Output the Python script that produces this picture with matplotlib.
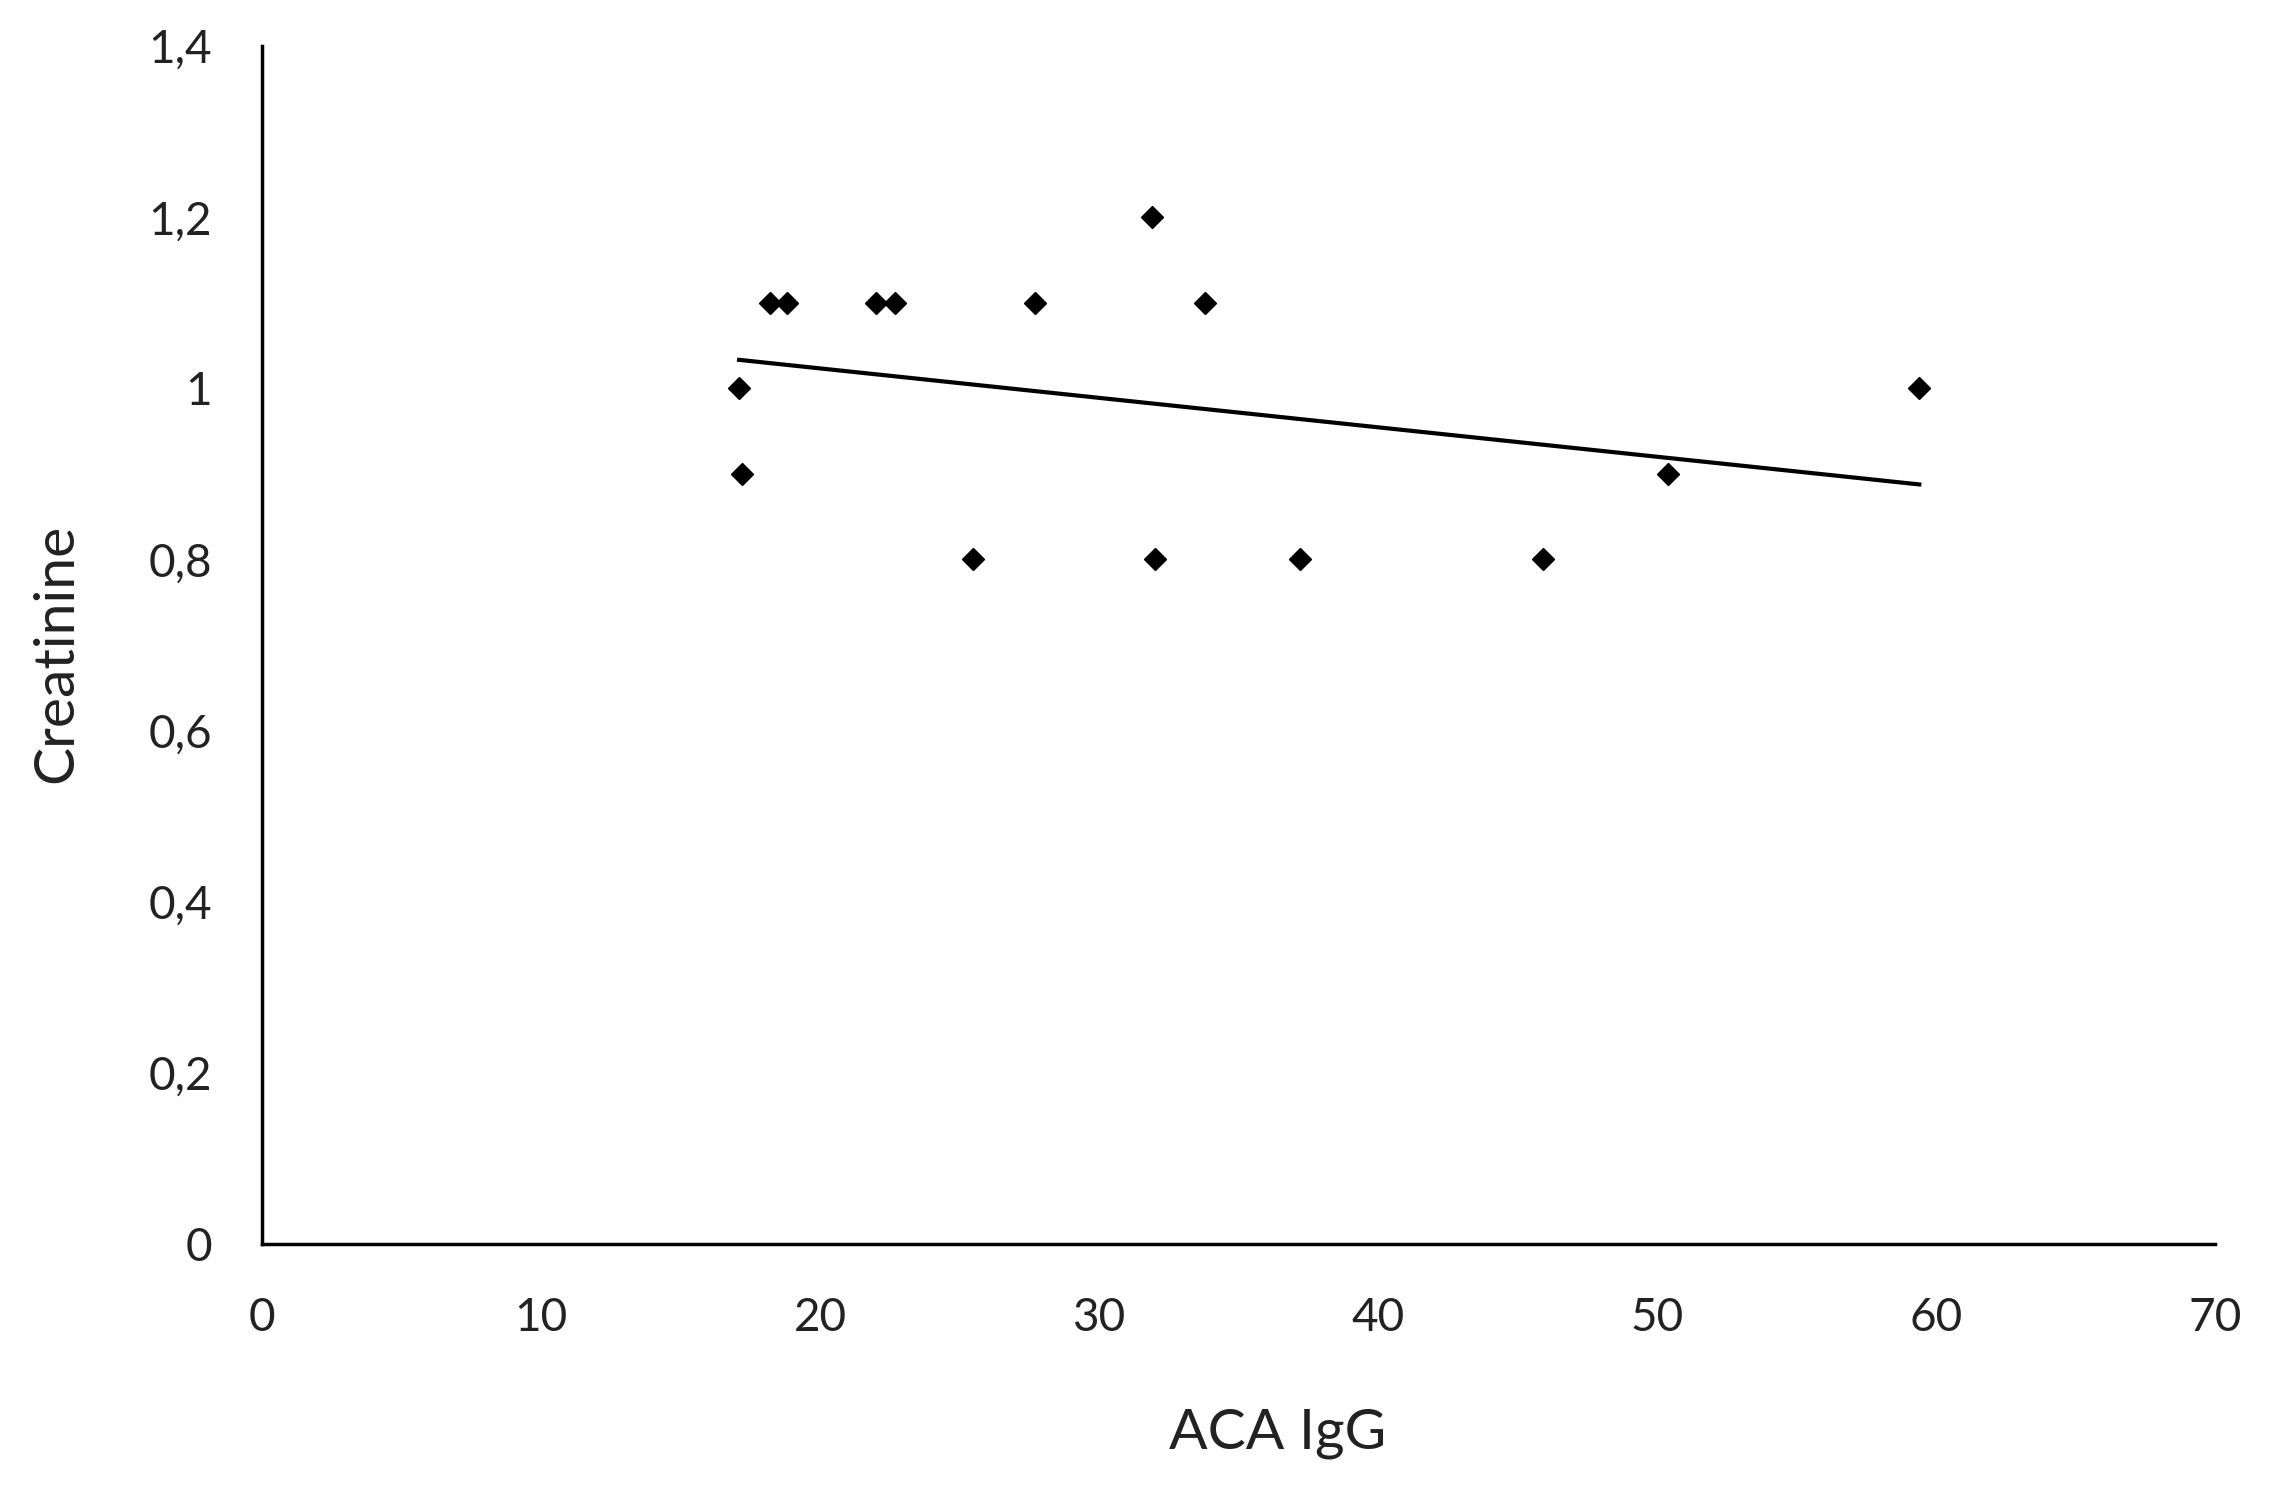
import numpy as np
from matplotlib import pyplot as plt

# values
aca_igg = [17.1, 17.2, 18.2, 18.8, 22.0, 22.7, 25.5, 27.7, 31.9, 32.0, 33.8, 37.2, 45.9, 50.4, 59.4]
creatinine = [1.0, 0.9, 1.1, 1.1, 1.1, 1.1, 0.8, 1.1, 1.2, 0.8, 1.1, 0.8, 0.8, 0.9, 1.0]

x_ticks = [0, 10, 20, 30, 40, 50, 60, 70]
y_ticks = [0, 0.2, 0.4, 0.6, 0.8, 1.0, 1.2, 1.4]
y_tick_labels = ["0", "0,2", "0,4", "0,6", "0,8", "1", "1,2", "1,4"]


def main():
    plt.rcParams["font.family"] = ["Lato", "DejaVu Sans"]

    fig = plt.figure(figsize=(22.7, 14.87), dpi=100)
    ax = fig.add_axes([0.1154, 0.1634, 0.8604, 0.8056])

    x = np.array(aca_igg)
    y = np.array(creatinine)
    ax.plot(x, y, linestyle="none", marker="D", markersize=11.5, color="black")

    # linear trendline over the data range
    slope, intercept = np.polyfit(x, y, 1)
    xs = np.array([x.min(), x.max()])
    ax.plot(xs, slope * xs + intercept, color="black", linewidth=3)

    ax.set_xlim(0, 70)
    ax.set_ylim(0, 1.4)
    ax.set_xticks(x_ticks)
    ax.set_xticklabels([str(t) for t in x_ticks])
    ax.set_yticks(y_ticks)
    ax.set_yticklabels(y_tick_labels)
    ax.tick_params(length=0, labelsize=33, colors="#222222")
    ax.tick_params(axis="y", pad=36)
    ax.tick_params(axis="x", pad=38)

    for side in ["top", "right"]:
        ax.spines[side].set_visible(False)
    for side in ["left", "bottom"]:
        ax.spines[side].set_linewidth(2.5)
        ax.spines[side].set_color("black")

    ax.text(0.52, -0.158, "ACA IgG", transform=ax.transAxes,
            ha="center", va="center", fontsize=41, color="#222222")
    ax.text(-0.105, 0.493, "Creatinine", transform=ax.transAxes, rotation=90,
            ha="center", va="center", fontsize=41, color="#222222")

    fig.savefig("out.png", dpi=100, facecolor="white")


if __name__ == "__main__":
    main()
